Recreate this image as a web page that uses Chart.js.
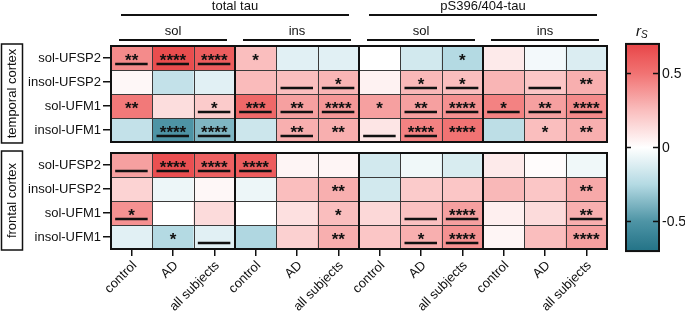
<!DOCTYPE html>
<html>
<head>
<meta charset="utf-8">
<script src="https://cdn.jsdelivr.net/npm/chart.js@4.4.1/dist/chart.umd.min.js"></script>
<style>
  html, body { margin: 0; padding: 0; background: #fff; }
</style>
</head>
<body>
<canvas id="heat" width="685" height="316"></canvas>
<script>
// column labels (3 per fraction, 2 fractions per tau species)
const subjects = ['control', 'AD', 'all subjects'];
const columns = [...subjects, ...subjects, ...subjects, ...subjects];
const tauHeaders = ['total tau', 'pS396/404-tau'];
const fractionHeaders = ['sol', 'ins', 'sol', 'ins'];
const regionNames = ['temporal cortex', 'frontal cortex'];
const rowNames = ['sol-UFSP2', 'insol-UFSP2', 'sol-UFM1', 'insol-UFM1'];

// Spearman rs
const temporalR = [
  [0.42, 0.67, 0.60, 0.25, -0.10, -0.10, 0.00, -0.15, -0.25, 0.08, -0.04, -0.12],
  [0.03, -0.20, -0.10, 0.26, 0.25, 0.28, 0.05, 0.27, 0.25, 0.28, 0.22, 0.30],
  [0.48, 0.13, 0.20, 0.55, 0.35, 0.38, 0.35, 0.35, 0.40, 0.45, 0.35, 0.42],
  [-0.20, -0.50, -0.38, -0.17, 0.30, 0.30, 0.10, 0.45, 0.50, -0.22, 0.25, 0.30]
];
const frontalR = [
  [0.35, 0.66, 0.58, 0.60, 0.04, 0.04, -0.15, -0.05, -0.13, 0.08, 0.01, -0.05],
  [0.17, -0.06, 0.03, -0.06, 0.25, 0.30, -0.15, 0.20, 0.22, 0.27, 0.22, 0.32],
  [0.40, 0.00, 0.14, 0.00, 0.12, 0.25, 0.15, 0.24, 0.35, 0.06, 0.14, 0.30],
  [-0.10, -0.25, -0.10, -0.26, 0.18, 0.30, 0.22, 0.30, 0.40, 0.04, 0.25, 0.35]
];
const temporalStars = [
  ['**', '****', '****', '*', '', '', '', '', '*', '', '', ''],
  ['', '', '', '', '', '*', '', '*', '*', '', '', '**'],
  ['**', '', '*', '***', '**', '****', '*', '**', '****', '*', '**', '****'],
  ['', '****', '****', '', '**', '**', '', '****', '****', '', '*', '**']
];
const frontalStars = [
  ['', '****', '****', '****', '', '', '', '', '', '', '', ''],
  ['', '', '', '', '', '**', '', '', '', '', '', '**'],
  ['*', '', '', '', '', '*', '', '', '****', '', '', '**'],
  ['', '*', '', '', '', '**', '', '*', '****', '', '', '****']
];
const temporalUnder = [
  [1, 1, 1, 0, 0, 0, 0, 0, 0, 0, 0, 0],
  [0, 0, 0, 0, 1, 1, 0, 1, 1, 0, 1, 0],
  [0, 0, 1, 1, 1, 1, 0, 1, 1, 1, 1, 1],
  [0, 1, 1, 0, 1, 0, 1, 1, 0, 0, 0, 0]
];
const frontalUnder = [
  [1, 1, 1, 1, 0, 0, 0, 0, 0, 0, 0, 0],
  [0, 0, 0, 0, 0, 0, 0, 0, 0, 0, 0, 0],
  [1, 0, 0, 0, 0, 0, 0, 1, 1, 0, 0, 1],
  [0, 0, 1, 0, 0, 0, 0, 1, 1, 0, 0, 0]
];
const cbTicks = [-0.5, 0, 0.5];
const cbTickLabels = ['-0.5', '0', '0.5'];

const panels = [
  { r: temporalR, stars: temporalStars, under: temporalUnder },
  { r: frontalR, stars: frontalStars, under: frontalUnder }
];
const PANEL_GAP = 0.46;
const panelTop = [0, 4 + PANEL_GAP];
const FONT = '"Liberation Sans", Arial, sans-serif';

const posStops = [[0, [255, 255, 255]], [0.25, [250, 190, 190]], [0.5, [241, 115, 115]], [0.7, [232, 70, 72]]];
const negStops = [[0, [255, 255, 255]], [0.25, [180, 218, 227]], [0.5, [78, 148, 165]], [0.7, [35, 115, 135]]];

function colorFor(v) {
  const stops = v >= 0 ? posStops : negStops;
  const a = Math.min(Math.abs(v), 0.7);
  for (let i = 1; i < stops.length; i++) {
    if (a <= stops[i][0]) {
      const [t0, c0] = stops[i - 1], [t1, c1] = stops[i];
      const f = (a - t0) / (t1 - t0);
      const c = c0.map((ch, k) => Math.round(ch + (c1[k] - ch) * f));
      return `rgb(${c[0]}, ${c[1]}, ${c[2]})`;
    }
  }
  const c = stops[stops.length - 1][1];
  return `rgb(${c[0]}, ${c[1]}, ${c[2]})`;
}

const datasets = [];
const yTickVals = [];
const yTickLabels = [];
panels.forEach((panel, p) => {
  panel.r.forEach((vals, r) => {
    const y0 = panelTop[p] + r;
    yTickVals.push(y0 + 0.5);
    yTickLabels.push(rowNames[r]);
    datasets.push({
      data: vals.map(() => [y0, y0 + 1]),
      backgroundColor: vals.map(colorFor),
      borderWidth: 0,
      grouped: false,
      barPercentage: 1,
      categoryPercentage: 1
    });
  });
});

function line(ctx, x1, y1, x2, y2) {
  ctx.beginPath();
  ctx.moveTo(x1, y1);
  ctx.lineTo(x2, y2);
  ctx.stroke();
}
const crisp = v => Math.round(v) + 0.5;

const heatDeco = {
  id: 'heatDeco',
  afterDatasetsDraw(chart) {
    const { ctx, scales: { x, y } } = chart;
    const w = (x.right - x.left) / columns.length;
    const colX = k => x.left + k * w;
    ctx.save();
    panels.forEach((panel, p) => {
      const top = y.getPixelForValue(panelTop[p]);
      const bot = y.getPixelForValue(panelTop[p] + panel.r.length);
      ctx.strokeStyle = '#3a3a3a';
      ctx.lineWidth = 1;
      for (let r = 1; r < panel.r.length; r++) {
        const yy = crisp(y.getPixelForValue(panelTop[p] + r));
        line(ctx, x.left, yy, x.right, yy);
      }
      for (let k = 1; k < columns.length; k++) {
        if (k % 3) line(ctx, crisp(colX(k)), top, crisp(colX(k)), bot);
      }
      ctx.strokeStyle = '#111';
      ctx.lineWidth = 2;
      [3, 6, 9].forEach(k => line(ctx, Math.round(colX(k)), top, Math.round(colX(k)), bot));
      ctx.strokeRect(Math.round(x.left), Math.round(top), Math.round(x.right - x.left), Math.round(bot - top));

      // significance stars + underlines
      ctx.fillStyle = '#111';
      ctx.font = 'bold 17px ' + FONT;
      ctx.textAlign = 'center';
      ctx.textBaseline = 'alphabetic';
      ctx.lineWidth = 2.5;
      panel.r.forEach((vals, r) => {
        const cy = y.getPixelForValue(panelTop[p] + r + 0.5);
        vals.forEach((v, j) => {
          const cx = x.getPixelForValue(j);
          const s = panel.stars[r][j];
          if (s) ctx.fillText(s, cx, cy + 8);
          if (panel.under[r][j]) line(ctx, cx - 16.5, cy + 6, cx + 16, cy + 6);
        });
      });
    });
    ctx.restore();
  },
  afterDraw(chart) {
    const { ctx, scales: { x, y, cb } } = chart;
    const w = (x.right - x.left) / columns.length;
    const colX = k => x.left + k * w;
    ctx.save();
    ctx.fillStyle = '#111';
    ctx.strokeStyle = '#111';
    ctx.font = '13px ' + FONT;
    ctx.textAlign = 'center';
    ctx.textBaseline = 'middle';
    // top headers
    ctx.lineWidth = 2;
    tauHeaders.forEach((t, i) => {
      const l = colX(i * 6), r = colX(i * 6 + 6);
      ctx.fillText(t, (l + r) / 2, 6);
      line(ctx, l + 10, 15, r - 10, 15);
    });
    fractionHeaders.forEach((t, i) => {
      const l = colX(i * 3), r = colX(i * 3 + 3);
      ctx.fillText(t, (l + r) / 2, 31);
      line(ctx, l + 8, 40, r - 8, 40);
    });
    // region boxes
    ctx.lineWidth = 1.5;
    regionNames.forEach((t, p) => {
      const top = y.getPixelForValue(panelTop[p]) - 2;
      const bot = y.getPixelForValue(panelTop[p] + 4) + 1;
      ctx.strokeRect(1.5, top, 21, bot - top);
      ctx.save();
      ctx.translate(12.5, (top + bot) / 2);
      ctx.rotate(-Math.PI / 2);
      ctx.fillText(t, 0, 0);
      ctx.restore();
    });
    // colour bar on the cb scale
    const cbL = 626, cbR = 659;
    const cTop = cb.getPixelForValue(0.7), cBot = cb.getPixelForValue(-0.7);
    const grad = ctx.createLinearGradient(0, cTop, 0, cBot);
    for (let i = 0; i <= 28; i++) {
      grad.addColorStop(i / 28, colorFor(0.7 - i * 0.05));
    }
    ctx.fillStyle = grad;
    ctx.fillRect(cbL, cTop, cbR - cbL, cBot - cTop);
    ctx.lineWidth = 2;
    ctx.strokeRect(cbL, cTop, cbR - cbL, cBot - cTop);
    ctx.lineWidth = 1.5;
    ctx.fillStyle = '#111';
    ctx.font = '14px ' + FONT;
    ctx.textAlign = 'left';
    cbTicks.forEach((v, i) => {
      const yy = cb.getPixelForValue(v);
      line(ctx, cbL, yy, cbL + 5, yy);
      line(ctx, cbR - 6, yy, cbR, yy);
      ctx.fillText(cbTickLabels[i], 662, yy + 1);
    });
    ctx.textBaseline = 'alphabetic';
    ctx.font = 'italic 15px ' + FONT;
    ctx.fillText('r', 636, 36);
    ctx.font = 'italic 10px ' + FONT;
    ctx.fillText('S', 641, 38);
    ctx.restore();
  }
};

new Chart(document.getElementById('heat'), {
  type: 'bar',
  data: { labels: columns, datasets },
  options: {
    responsive: false,
    animation: false,
    layout: { padding: { top: 46, left: 0, right: 0, bottom: 0 } },
    plugins: { legend: { display: false }, tooltip: { enabled: false } },
    scales: {
      x: {
        type: 'category',
        offset: true,
        grid: { offset: false, drawOnChartArea: false, drawTicks: true, tickLength: 7, tickColor: '#111', lineWidth: 1.5 },
        border: { display: false },
        ticks: { maxRotation: 45, minRotation: 45, padding: 2, labelOffset: 3, color: '#111', font: { size: 13, family: FONT } },
        afterFit: s => { s.height = 67; }
      },
      y: {
        type: 'linear',
        reverse: true,
        min: 0,
        max: 8 + PANEL_GAP,
        grid: { drawOnChartArea: false, drawTicks: true, tickLength: 8, tickColor: '#111', lineWidth: 1.5 },
        border: { display: false },
        afterBuildTicks: s => { s.ticks = yTickVals.map(v => ({ value: v })); },
        ticks: {
          padding: 2, color: '#111', font: { size: 13, family: FONT },
          callback: (v, i) => yTickLabels[i]
        },
        afterFit: s => { s.width = 111; }
      },
      cb: {
        type: 'linear',
        position: 'right',
        display: true,
        min: -0.686,
        max: 0.686,
        grid: { display: false, drawTicks: false },
        border: { display: false },
        ticks: { display: false },
        afterFit: s => { s.width = 78; }
      }
    }
  },
  plugins: [heatDeco]
});
</script>
</body>
</html>
